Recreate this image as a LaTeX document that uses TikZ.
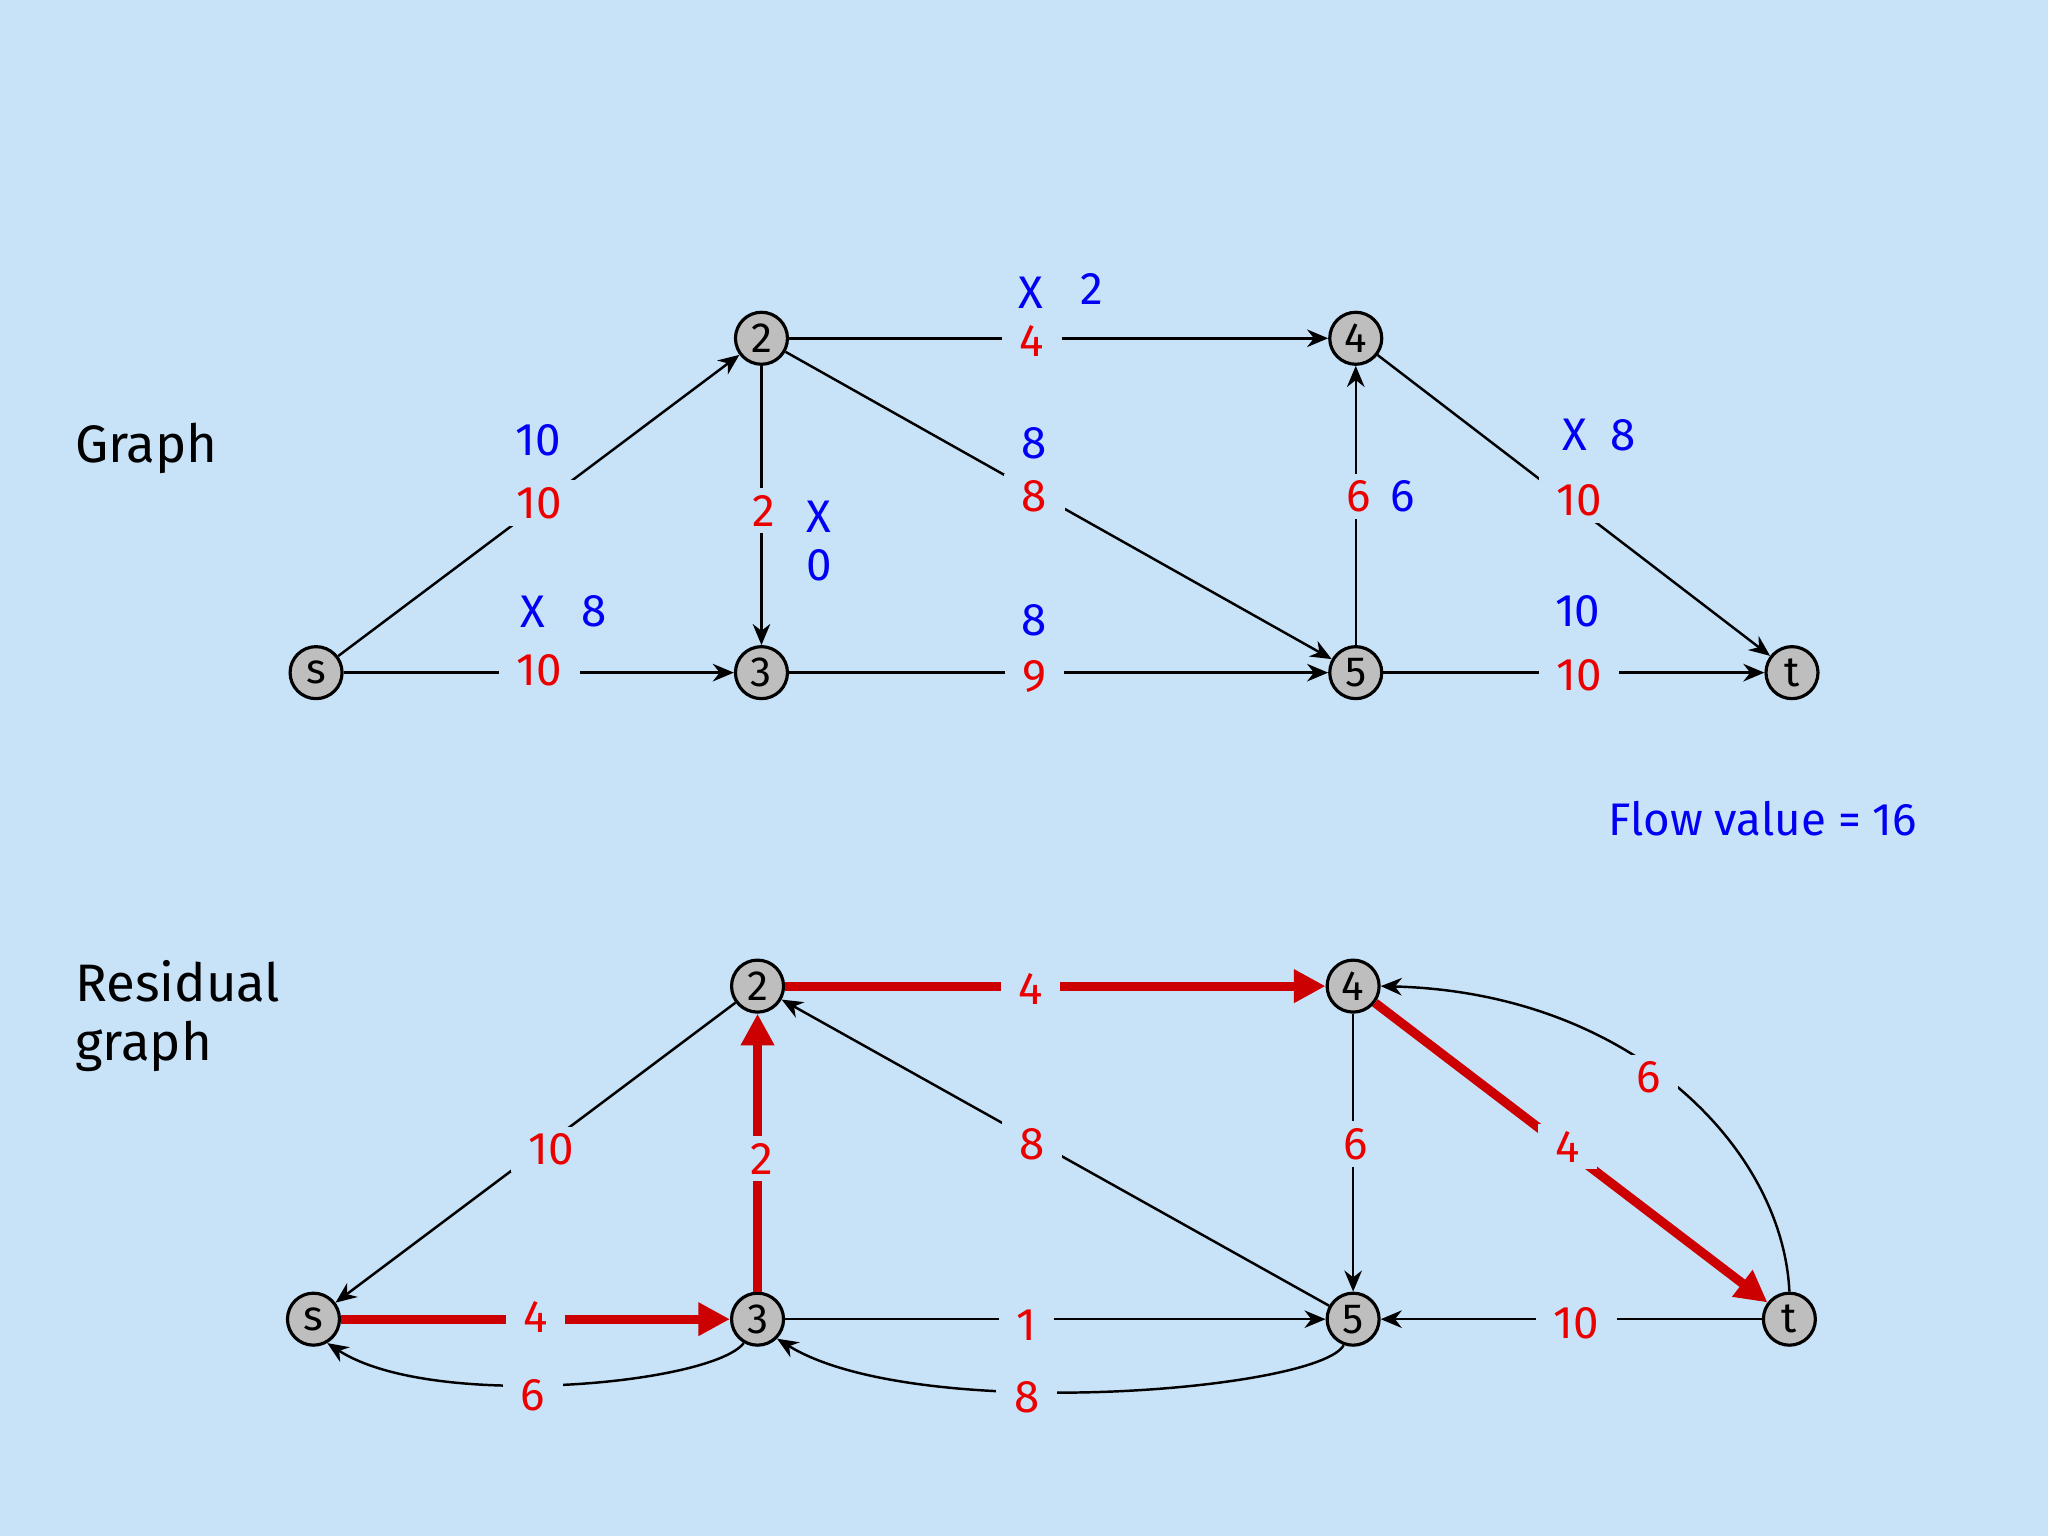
\documentclass[tikz,border=0pt]{standalone}
\usepackage{fontspec}
\setmainfont{Fira Sans}
\usetikzlibrary{arrows.meta}
\definecolor{bg}{RGB}{200,226,248}
\definecolor{rd}{RGB}{235,0,0}
\definecolor{thr}{RGB}{204,0,0}
\definecolor{bl}{RGB}{0,0,245}
\definecolor{nodegray}{RGB}{190,190,190}
\begin{document}
\begin{tikzpicture}[x=0.0130612cm,y=-0.0130612cm,
 vert/.style={circle,draw,line width=0.9pt,fill=nodegray,minimum size=0.52cm,inner sep=0pt,font=\fontsize{12}{12}\selectfont},
 arr/.style={line width=0.7pt,-{Stealth[length=6pt,width=5pt]}},
 thick/.style={line width=2.6pt,draw=thr,-{Triangle[length=9pt,width=9pt]},color=thr},
 rl/.style={text=rd,fill=bg,inner xsep=5pt,inner ysep=2pt,font=\fontsize{13}{13}\selectfont},
 bll/.style={text=bl,inner sep=1pt,font=\fontsize{13}{13}\selectfont},
 title/.style={font=\fontsize{15}{17}\selectfont,align=left,anchor=west,inner sep=0pt}]
\fill[bg] (0,0) rectangle (1568,1176);
% top graph
\node[vert] (s) at (242,515) {s};
\node[vert] (n2) at (583,259) {2};
\node[vert] (n3) at (583,515) {3};
\node[vert] (n4) at (1038,259) {4};
\node[vert] (n5) at (1038,515) {5};
\node[vert] (t) at (1372,515) {t};
\draw[arr] (s) -- (n2);
\draw[arr] (s) -- (n3);
\draw[arr] (n2) -- (n3);
\draw[arr] (n2) -- (n4);
\draw[arr] (n2) -- (n5);
\draw[arr] (n3) -- (n5);
\draw[arr] (n5) -- (n4);
\draw[arr] (n4) -- (t);
\draw[arr] (n5) -- (t);
\node[rl] (l1) at (413,385) {10}; \node[bll] (b1) at (412,337) {10};
\node[rl] (l2) at (413,513) {10}; \node[bll] (b2) at (408,468) {X}; \node[bll] (b2b) at (455,468) {8};
\node[rl] (l3) at (585,391) {2}; \node[bll] (b3) at (627,396) {X}; \node[bll] (b3b) at (627,433) {0};
\node[rl] (l4) at (790,261) {4}; \node[bll] (b4) at (789,224) {X}; \node[bll] (b4b) at (836,221) {2};
\node[rl] (l5) at (792,380) {8}; \node[bll] (b5) at (792,339) {8};
\node[rl] (l6) at (792,518) {9}; \node[bll] (b6) at (792,475) {8};
\node[rl] (l7) at (1040,380) {6}; \node[bll] (b7) at (1074,380) {6};
\node[rl] (l8) at (1209,383) {10}; \node[bll] (b8) at (1206,333) {X}; \node[bll] (b8b) at (1243,333) {8};
\node[rl] (l9) at (1209,517) {10}; \node[bll] (b9) at (1208,468) {10};
\node[bll,anchor=east] (fv) at (1471,627) {Flow value = 16};
\node[title] (g) at (57,343) {Graph};
\node[title] (rg) at (57,778) {Residual\\graph};
% residual graph
\node[vert] (rs) at (240,1010) {s};
\node[vert] (r2) at (580,755) {2};
\node[vert] (r3) at (580,1010) {3};
\node[vert] (r4) at (1036,755) {4};
\node[vert] (r5) at (1036,1010) {5};
\node[vert] (rt) at (1370,1010) {t};
\draw[arr] (r2) -- (rs);
\draw[arr] (r3.-120) .. controls (545,1060) and (330,1080) .. (rs.-60);
\draw[arr] (r5) -- (r2);
\draw[arr] (r3) -- (r5);
\draw[arr] (r5.-110) .. controls (1010,1065) and (700,1090) .. (r3.-45);
\draw[arr] (r4) -- (r5);
\draw[arr] (rt) -- (r5);
\draw[arr] (rt.north) .. controls (1365,880) and (1250,760) .. (r4.east);
\draw[thick] (rs) -- (r3);
\draw[thick] (r3) -- (r2);
\draw[thick] (r2) -- (r4);
\draw[thick] (r4) -- (rt);
\node[rl] (m1) at (422,880) {10};
\node[rl] (m2) at (410,1008) {4};
\node[rl] (m3) at (408,1068) {6};
\node[rl] (m4) at (583,887) {2};
\node[rl] (m5) at (789,757) {4};
\node[rl] (m6) at (790,876) {8};
\node[rl] (m7) at (786,1015) {1};
\node[rl] (m8) at (786,1070) {8};
\node[rl] (m9) at (1038,876) {6};
\node[rl] (m10) at (1200,878) {4};
\node[rl] (m11) at (1262,825) {6};
\node[rl] (m12) at (1207,1013) {10};
\end{tikzpicture}
\end{document}
